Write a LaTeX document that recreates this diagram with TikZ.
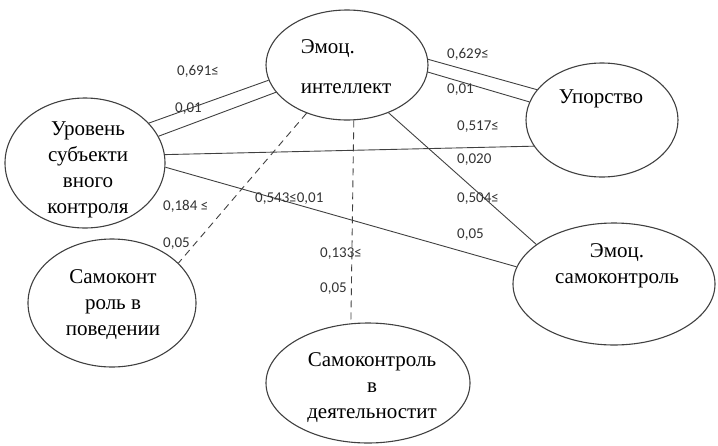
\documentclass[tikz,border=0pt]{standalone}
\usepackage{fontspec}
\setmainfont{Liberation Serif}
\newfontfamily\numfont{Carlito}
\usetikzlibrary{shapes.geometric}

\begin{document}
\begin{tikzpicture}[
    x=1pt, y=-1pt,
    factor/.style={ellipse, draw=black!75, line width=1.1pt, inner sep=0pt},
    factortext/.style={font=\fontsize{21}{26}\selectfont, align=center, inner sep=0pt},
    link/.style={draw=black!75, line width=0.9pt},
    weak/.style={link, dash pattern=on 7pt off 5pt},
    coef/.style={font=\numfont\fontsize{15}{18}\selectfont, anchor=base west, inner sep=0pt, text=black!80}
]

\useasboundingbox (0,0) rectangle (718,445);

% Factors
\node[factor, minimum width=162pt, minimum height=110pt] (ei) at (347,65) {};
\node[factor, minimum width=152pt, minimum height=114pt] (upor) at (602,120) {};
\node[factor, minimum width=160pt, minimum height=130pt] (usk) at (85,163) {};
\node[factor, minimum width=168pt, minimum height=128pt] (skp) at (112,303) {};
\node[factor, minimum width=202pt, minimum height=122pt] (esk) at (614,284) {};
\node[factor, minimum width=204pt, minimum height=120pt] (skd) at (368,383) {};

% Factor names
\node[factortext, align=left, font=\fontsize{21}{40}\selectfont] (ei-t) at (346,67) {Эмоц.\\интеллект};
\node[factortext] (upor-t) at (601,99) {Упорство};
\node[factortext] (usk-t) at (88,170) {Уровень\\субъекти\\вного\\контроля};
\node[factortext] (skp-t) at (113,305) {Самоконт\\роль в\\поведении};
\node[factortext] (esk-t) at (617,266) {Эмоц.\\самоконтроль};
\node[factortext] (skd-t) at (372,388) {Самоконтроль\\в\\деятельностит};

% Links
\draw[link] (usk.32) -- (ei.191);
\draw[link] (usk.20) -- (ei.201);
\draw[link] (ei.4) -- (upor.155);
\draw[link] (ei.355) -- (upor.166);
\draw[link] (usk.6) -- (upor.201);
\draw[link] (usk.357) -- (esk.170);
\draw[link] (ei.311) -- (esk.153);
\draw[weak] (ei.230) -- (skp.31);
\draw[weak] (ei.277) -- (skd.106);

% Coefficients
\node[coef] (c1a) at (177,75) {0,691≤};
\node[coef] (c1b) at (175,112) {0,01};
\node[coef] (c2a) at (447,58) {0,629≤};
\node[coef] (c2b) at (447,93) {0,01};
\node[coef] (c3a) at (457,130) {0,517≤};
\node[coef] (c3b) at (457,163) {0,020};
\node[coef] (c4) at (255,202) {0,543≤0,01};
\node[coef] (c5a) at (457,202) {0,504≤};
\node[coef] (c5b) at (457,238) {0,05};
\node[coef] (c6a) at (163,210) {0,184 ≤};
\node[coef] (c6b) at (163,247) {0,05};
\node[coef] (c7a) at (320,257) {0,133≤};
\node[coef] (c7b) at (320,292) {0,05};

\end{tikzpicture}
\end{document}
